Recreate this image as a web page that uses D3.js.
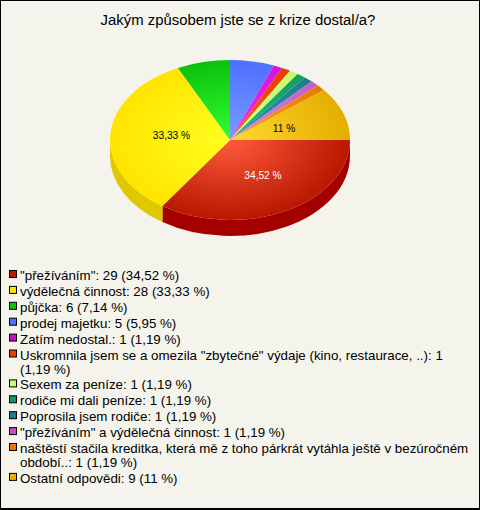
<!DOCTYPE html>
<html><head><meta charset="utf-8">
<script src="https://cdn.jsdelivr.net/npm/d3@7"></script>
<style>html,body{margin:0;padding:0;background:#fff}svg{display:block}text{font-family:"Liberation Sans",Arial,sans-serif}</style>
</head><body><svg id="c" width="480" height="510"></svg>
<script>
const title = "Jakým způsobem jste se z krize dostal/a?";
const categories = ['"přežíváním"','výdělečná činnost','půjčka','prodej majetku','Zatím nedostal.','Uskromnila jsem se a omezila "zbytečné" výdaje (kino, restaurace, ..)','Sexem za peníze','rodiče mi dali peníze','Poprosila jsem rodiče','"přežíváním" a výdělečná činnost','naštěstí stačila kreditka, která mě z toho párkrát vytáhla ještě v bezúročném období..','Ostatní odpovědi'];
const values = [29,28,6,5,1,1,1,1,1,1,1,9];
const percents = ["34,52 %","33,33 %","7,14 %","5,95 %","1,19 %","1,19 %","1,19 %","1,19 %","1,19 %","1,19 %","1,19 %","11 %"];
const legendColors = ["#b81c00","#ffe800","#0cc00c","#4d70ff","#c010c8","#e84000","#c8ff70","#109860","#187c90","#c050b8","#e87800","#e8b000"];
const innerColors = ["#ff5a3c","#ffff20","#33ff33","#7a9cff","#ee33ee","#ff5a1a","#d8ff88","#22b878","#3098ac","#d888dc","#ffa020","#ffd830"];
const outerColors = ["#b81800","#ffe400","#0cc00c","#4d70ff","#d810d8","#e83c00","#c4fa6c","#10a060","#1c7c90","#c060c0","#e87a00","#e4ae00"];
const sideColors = ["#a50000","#e0c800"];
const sliceLabels = [0,1,11];
const labelFill = ["#fff","#000","#000"];

const W=480,H=510,cx=230,cy=140,rx=120,ry=80,depth=16;
const svg=d3.select("#c");
svg.append("rect").attr("width",W).attr("height",H).attr("fill","#000");
svg.append("rect").attr("x",1).attr("y",1).attr("width",W-2).attr("height",H-3).attr("fill","#f4f4ec");
svg.append("text").attr("x",238).attr("y",25).attr("text-anchor","middle").attr("font-size",14.9).attr("fill","#000").text(title);

const pie=d3.pie().sort(null).startAngle(Math.PI/2).endAngle(Math.PI*2.5).value((d,i)=>d);
const arcs=pie(values);
const defs=svg.append("defs");
arcs.forEach((a,i)=>{
  const g=defs.append("radialGradient").attr("id","g"+i).attr("gradientUnits","userSpaceOnUse").attr("cx",0).attr("cy",0).attr("r",rx);
  g.append("stop").attr("offset",0).attr("stop-color",innerColors[i]);
  g.append("stop").attr("offset",1).attr("stop-color",outerColors[i]);
});
const px=t=>cx+rx*Math.sin(t), py=t=>cy-ry*Math.cos(t);
const front0=Math.PI/2, front1=Math.PI*1.5;
const sideG=svg.append("g");
arcs.forEach((a,i)=>{
  const s=Math.max(a.startAngle,front0), e=Math.min(a.endAngle,front1);
  if(e<=s) return;
  const d=`M${px(s)},${py(s)}A${rx},${ry} 0 ${e-s>Math.PI?1:0} 1 ${px(e)},${py(e)}L${px(e)},${py(e)+depth}A${rx},${ry} 0 ${e-s>Math.PI?1:0} 0 ${px(s)},${py(s)+depth}Z`;
  sideG.append("path").attr("d",d).attr("fill",sideColors[i]);
});
const arc=d3.arc().innerRadius(0).outerRadius(rx);
const topG=svg.append("g").attr("transform",`translate(${cx},${cy}) scale(1,${ry/rx})`);
topG.selectAll("path").data(arcs).join("path").attr("d",arc).attr("fill",(d,i)=>`url(#g${i})`);

const labelPos=[[263,179],[171.5,139],[284,132]];
sliceLabels.forEach((k,j)=>{
  svg.append("text").attr("x",labelPos[j][0]).attr("y",labelPos[j][1]).attr("text-anchor","middle")
   .attr("font-size",10.2).attr("fill",labelFill[j]).text(percents[k]);
});

const lineH=14, rowGap=15.9, maxW=452;
let y=280;
categories.forEach((c,i)=>{
  const g=svg.append("g");
  g.append("rect").attr("x",9.5).attr("y",y-9.5).attr("width",7).attr("height",7).attr("fill",legendColors[i]).attr("stroke","#000");
  const t=g.append("text").attr("font-size",13.33).attr("fill","#000").attr("y",y);
  const words=`${c}: ${values[i]} (${percents[i]})`.split(" ");
  let line="",ts=t.append("tspan").attr("x",20);
  words.forEach(w=>{
    const trial=line?line+" "+w:w;
    ts.text(trial);
    if(ts.node().getComputedTextLength()>maxW&&line){
      ts.text(line); y+=lineH; line=w;
      ts=t.append("tspan").attr("x",20).attr("y",y).text(w);
    } else line=trial;
  });
  y+=rowGap;
});
</script></body></html>
